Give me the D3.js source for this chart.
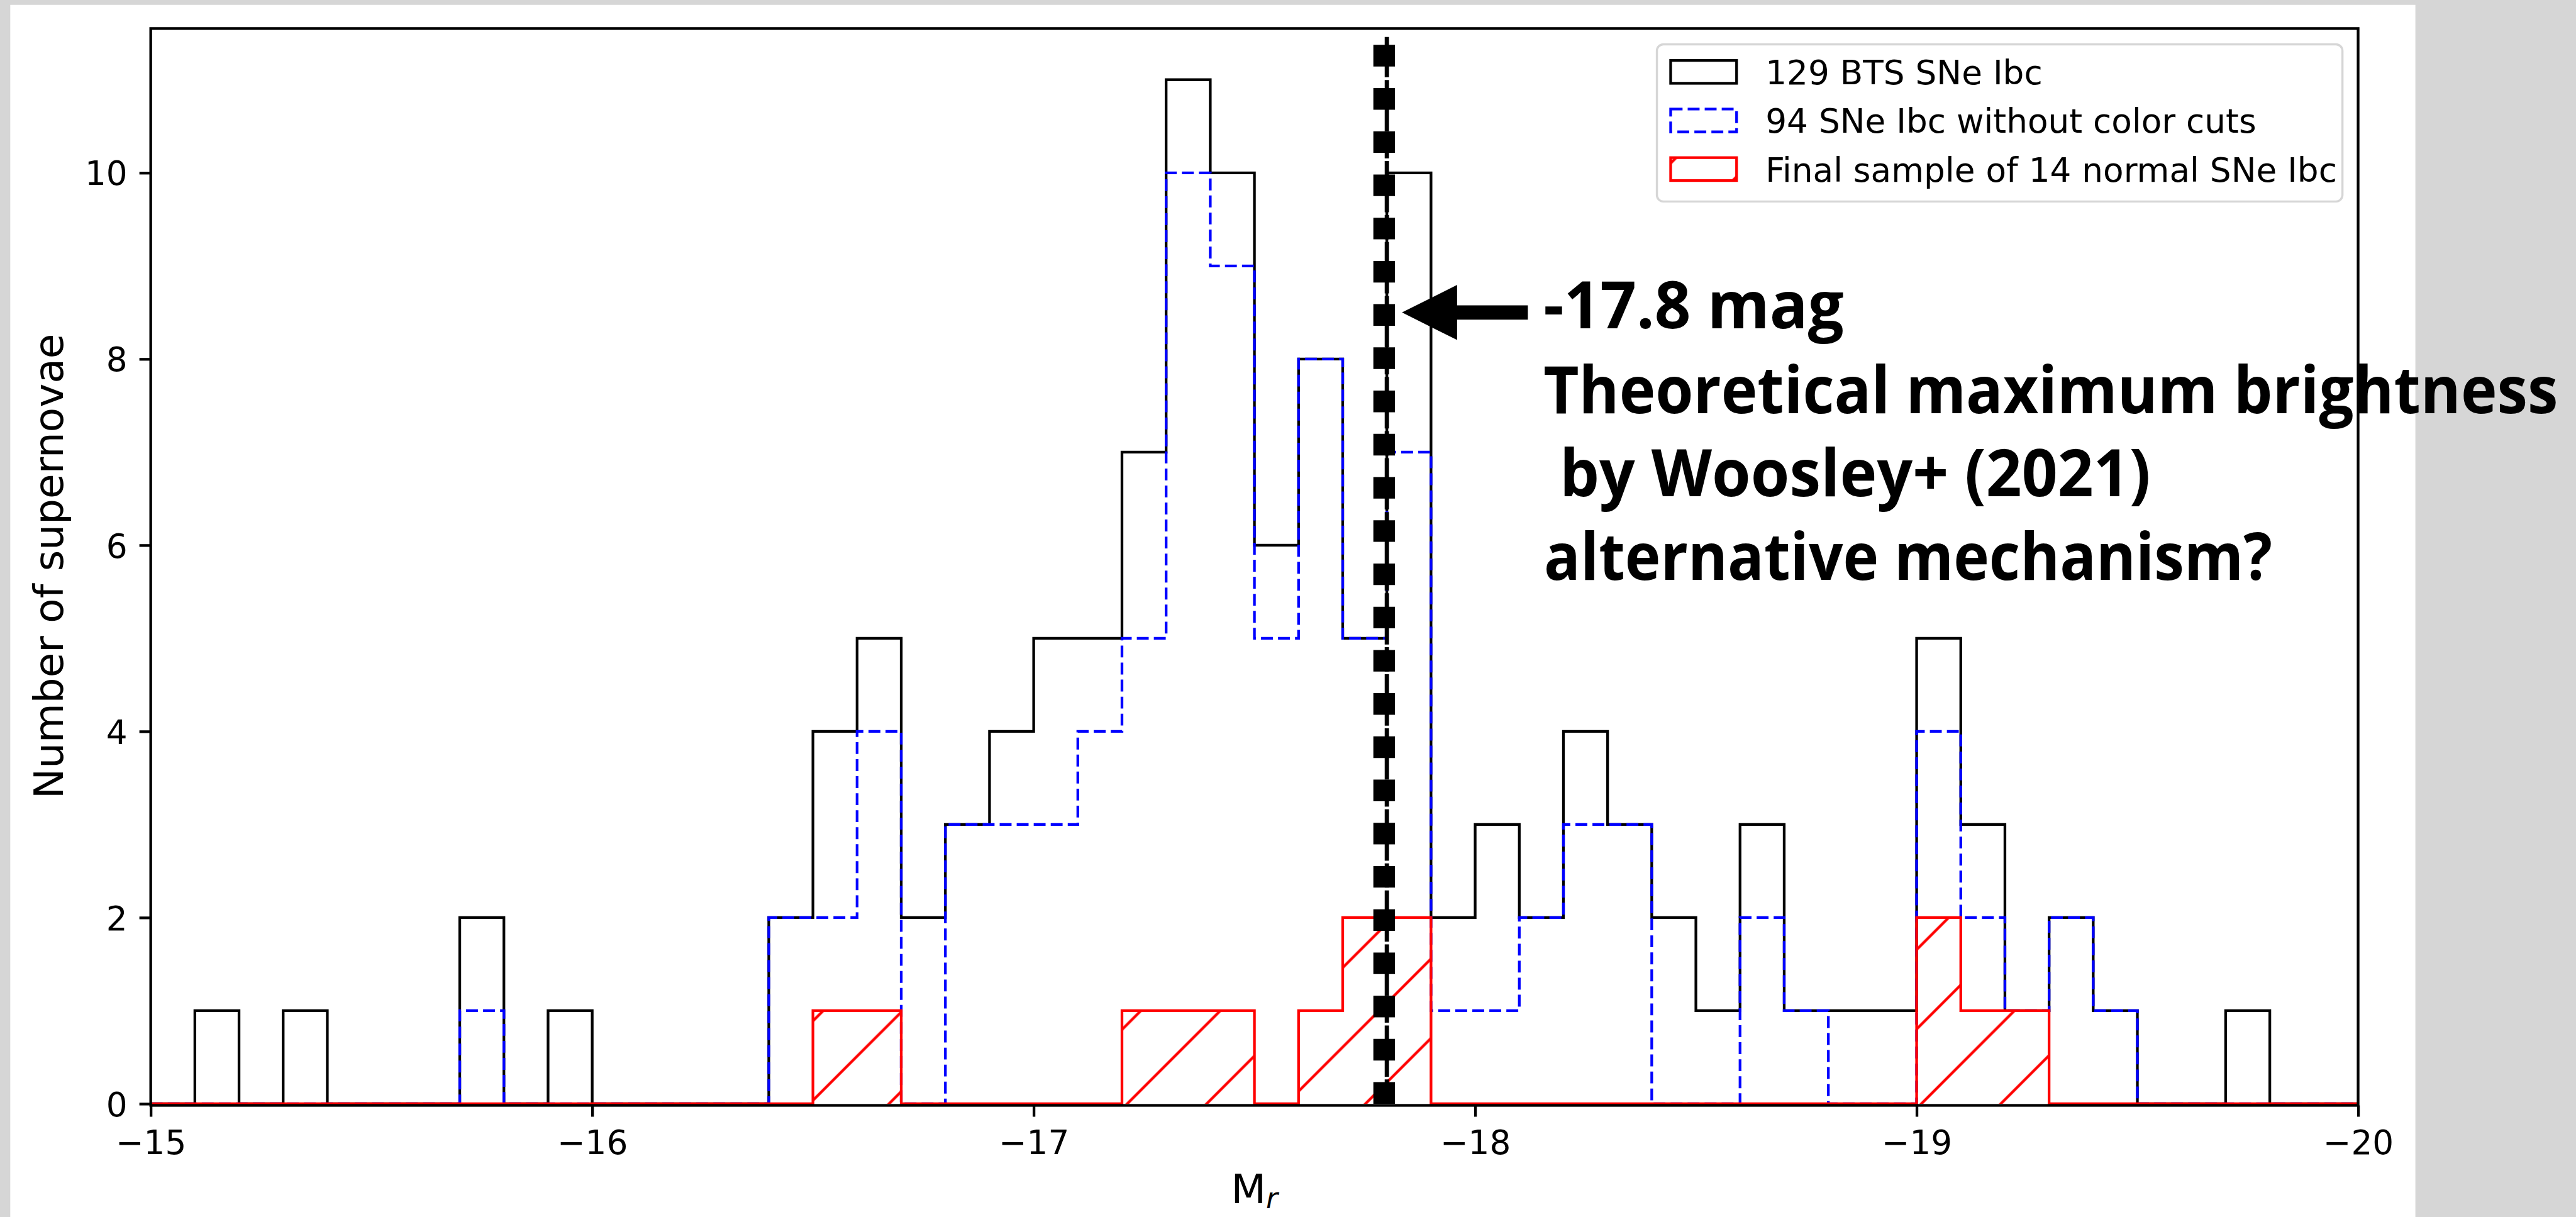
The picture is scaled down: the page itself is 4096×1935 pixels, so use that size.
<!DOCTYPE html>
<html>
<head>
<meta charset="utf-8">
<script src="https://cdn.jsdelivr.net/npm/d3@7"></script>
<style>
  html, body { margin: 0; padding: 0; background: #d6d6d6; overflow: hidden; }
  svg { display: block; }
</style>
</head>
<body>
<script>
// histogram bins in M_r (0.1 mag wide), x axis runs faint -> bright
var binEdges = [-15.0, -15.1, -15.2, -15.3, -15.4, -15.5, -15.6, -15.7, -15.8, -15.9,
                -16.0, -16.1, -16.2, -16.3, -16.4, -16.5, -16.6, -16.7, -16.8, -16.9,
                -17.0, -17.1, -17.2, -17.3, -17.4, -17.5, -17.6, -17.7, -17.8, -17.9,
                -18.0, -18.1, -18.2, -18.3, -18.4, -18.5, -18.6, -18.7, -18.8, -18.9,
                -19.0, -19.1, -19.2, -19.3, -19.4, -19.5, -19.6, -19.7, -19.8, -19.9,
                -20.0];

// counts per bin
var countsAll   = [0, 1, 0, 1, 0, 0, 0, 2, 0, 1,
                   0, 0, 0, 0, 2, 4, 5, 2, 3, 4,
                   5, 5, 7, 11, 10, 6, 8, 5, 10, 2,
                   3, 2, 4, 3, 2, 1, 3, 1, 1, 1,
                   5, 3, 1, 2, 1, 0, 0, 1, 0, 0];
var countsNoCut = [0, 0, 0, 0, 0, 0, 0, 1, 0, 0,
                   0, 0, 0, 0, 2, 2, 4, 0, 3, 3,
                   3, 4, 5, 10, 9, 5, 8, 5, 7, 1,
                   1, 2, 3, 3, 0, 0, 2, 1, 0, 0,
                   4, 2, 1, 2, 1, 0, 0, 0, 0, 0];
var countsFinal = [0, 0, 0, 0, 0, 0, 0, 0, 0, 0,
                   0, 0, 0, 0, 0, 1, 1, 0, 0, 0,
                   0, 0, 1, 1, 1, 0, 1, 2, 2, 0,
                   0, 0, 0, 0, 0, 0, 0, 0, 0, 0,
                   2, 1, 1, 0, 0, 0, 0, 0, 0, 0];

var seriesLabels = ["129 BTS SNe Ibc", "94 SNe Ibc without color cuts", "Final sample of 14 normal SNe Ibc"];
var xTicks = [-15, -16, -17, -18, -19, -20];
var yTicks = [0, 2, 4, 6, 8, 10];
var woosleyMag = -17.8;
var woosleyTop = 11.46;
var arrowLevel = 8.5;
var noteLines = ["-17.8 mag", "Theoretical maximum brightness", "by Woosley+ (2021)", "alternative mechanism?"];

// everything is laid out in reference pixels and shrunk by k
var k = 0.859;
function px(v) { return v * k; }

var W = 4096, H = 1935;
var plot = {left: 279, right: 4365, top: 52.8, bottom: 2043};

var svg = d3.select("body").append("svg")
    .attr("width", W)
    .attr("height", H);

// white page area on the grey background
svg.append("rect")
    .attr("x", px(19)).attr("y", px(9))
    .attr("width", px(4471 - 19)).attr("height", H)
    .attr("fill", "#ffffff");

var x = d3.scaleLinear().domain([-15, -20]).range([px(plot.left), px(plot.right)]);
var y = d3.scaleLinear().domain([0, 11.55]).range([px(plot.bottom), px(plot.top)]);

// hatch for the final sample, fixed to the page like matplotlib's
var hatchStep = px(147);
var hatchPhase = px(4276.6) % hatchStep;
var defs = svg.append("defs");
defs.append("pattern")
    .attr("id", "hatch")
    .attr("patternUnits", "userSpaceOnUse")
    .attr("x", hatchPhase).attr("y", 0)
    .attr("width", hatchStep).attr("height", hatchStep)
  .append("path")
    .attr("d", "M0," + hatchStep + "L" + hatchStep + ",0" +
               "M" + (-hatchStep / 4) + "," + (hatchStep / 4) + "L" + (hatchStep / 4) + "," + (-hatchStep / 4) +
               "M" + (hatchStep * 0.75) + "," + (hatchStep * 1.25) + "L" + (hatchStep * 1.25) + "," + (hatchStep * 0.75))
    .attr("stroke", "#ff0000")
    .attr("stroke-width", px(5))
    .attr("fill", "none");

function stepPoints(counts) {
  var pts = [[binEdges[0], 0]];
  counts.forEach(function(c, i) {
    pts.push([binEdges[i], c]);
    pts.push([binEdges[i + 1], c]);
  });
  pts.push([binEdges[binEdges.length - 1], 0]);
  return pts;
}

var stepLine = d3.line()
    .x(function(d) { return x(d[0]); })
    .y(function(d) { return y(d[1]); });

var series = [
  {counts: countsAll,   color: "#000000", dash: null,                        fill: "none"},
  {counts: countsNoCut, color: "#0000ff", dash: px(22) + " " + px(9.5),     fill: "none"},
  {counts: countsFinal, color: "#ff0000", dash: null,                        fill: "url(#hatch)"}
];

svg.append("g").attr("class", "hists")
  .selectAll("path")
  .data(series)
  .enter().append("path")
    .attr("d", function(d) { return stepLine(stepPoints(d.counts)); })
    .attr("fill", function(d) { return d.fill; })
    .attr("stroke", function(d) { return d.color; })
    .attr("stroke-width", px(5))
    .attr("stroke-dasharray", function(d) { return d.dash; })
    .attr("stroke-linejoin", "miter");

// axes frame
svg.append("rect")
    .attr("x", px(plot.left)).attr("y", px(plot.top))
    .attr("width", px(plot.right - plot.left))
    .attr("height", px(plot.bottom + 3 - plot.top))
    .attr("fill", "none")
    .attr("stroke", "#000000")
    .attr("stroke-width", px(5));

var tickFont = px(62);

var xAxisG = svg.append("g")
    .attr("transform", "translate(0," + px(plot.bottom + 3) + ")")
    .call(d3.axisBottom(x).tickValues(xTicks)
      .tickSize(px(21)).tickSizeOuter(0).tickPadding(px(25))
      .tickFormat(function(d) { return d3.format("d")(d).replace("-", "\u2212"); }));

var yAxisG = svg.append("g")
    .attr("transform", "translate(" + px(plot.left) + ",0)")
    .call(d3.axisLeft(y).tickValues(yTicks)
      .tickSize(px(21)).tickSizeOuter(0).tickPadding(px(22))
      .tickFormat(d3.format("d")));

[xAxisG, yAxisG].forEach(function(g) {
  g.select(".domain").remove();
  g.attr("font-family", "'DejaVu Sans', sans-serif").attr("font-size", tickFont);
  g.selectAll(".tick line").attr("stroke", "#000000").attr("stroke-width", px(5));
  g.selectAll(".tick text").attr("fill", "#000000");
});
yAxisG.selectAll(".tick text").attr("dy", "0.36em");

// axis labels
svg.append("text")
    .attr("transform", "translate(" + px(116.7) + "," + px(1048) + ") rotate(-90)")
    .attr("text-anchor", "middle")
    .attr("font-family", "'DejaVu Sans', sans-serif")
    .attr("font-size", px(75))
    .text("Number of supernovae");

var xLabel = svg.append("text")
    .attr("x", px(2322)).attr("y", px(2226.7))
    .attr("text-anchor", "middle")
    .attr("font-family", "'DejaVu Sans', sans-serif")
    .attr("font-size", px(75));
xLabel.append("tspan").text("M");
xLabel.append("tspan")
    .attr("font-style", "italic")
    .attr("font-size", px(53))
    .attr("dy", px(10))
    .text("r");

// Woosley+ (2021) limit: thin dashed line with a heavy dotted line on top
var vx = x(woosleyMag);
svg.append("line")
    .attr("x1", vx).attr("x2", vx)
    .attr("y1", y(0)).attr("y2", y(woosleyTop))
    .attr("stroke", "#000000")
    .attr("stroke-width", px(8))
    .attr("stroke-dasharray", px(45) + " " + px(5));
svg.append("line")
    .attr("x1", vx - px(5)).attr("x2", vx - px(5))
    .attr("y1", y(0)).attr("y2", y(woosleyTop))
    .attr("stroke", "#000000")
    .attr("stroke-width", px(40))
    .attr("stroke-dasharray", px(40) + " " + px(40));

// legend (absolute coordinates so the hatch phase matches the bars)
var legX = 3067, legY = 82;
var legend = svg.append("g").attr("class", "legend");
legend.append("rect")
    .attr("x", px(legX)).attr("y", px(legY))
    .attr("width", px(1269)).attr("height", px(291))
    .attr("rx", px(12)).attr("ry", px(12))
    .attr("fill", "#ffffff")
    .attr("stroke", "#d6d6d6")
    .attr("stroke-width", px(4));

var legendRows = legend.selectAll("g.row")
    .data(series)
    .enter().append("g")
    .attr("class", "row");

legendRows.append("rect")
    .attr("x", px(legX + 25.5))
    .attr("y", function(d, i) { return px(legY + 29.8 + 90 * i); })
    .attr("width", px(122)).attr("height", px(42.4))
    .attr("fill", function(d) { return d.fill; })
    .attr("stroke", function(d) { return d.color; })
    .attr("stroke-width", px(5))
    .attr("stroke-dasharray", function(d) { return d.dash; });

legendRows.append("text")
    .attr("x", px(legX + 201))
    .attr("y", function(d, i) { return px(legY + 74 + 90 * i); })
    .attr("font-family", "'DejaVu Sans', sans-serif")
    .attr("font-size", tickFont)
    .attr("fill", "#000000")
    .text(function(d, i) { return seriesLabels[i]; });

// arrow pointing at the limit
var ay = y(arrowLevel);
var tipX = vx + px(28);
var arrowPts = [
  [tipX, ay],
  [tipX + px(102), ay - px(51)],
  [tipX + px(102), ay - px(13.3)],
  [tipX + px(233), ay - px(13.3)],
  [tipX + px(233), ay + px(13.3)],
  [tipX + px(102), ay + px(13.3)],
  [tipX + px(102), ay + px(51)]
];
svg.append("path")
    .attr("d", d3.line()(arrowPts) + "Z")
    .attr("fill", "#000000");

// annotation text
var notePos = [
  {x: 2857, y: 607.6, w: 556},
  {x: 2857, y: 765, w: 1878},
  {x: 2887, y: 918, w: 1094},
  {x: 2858, y: 1073, w: 1348}
];
svg.append("g")
  .selectAll("text")
  .data(noteLines)
  .enter().append("text")
    .attr("x", function(d, i) { return px(notePos[i].x); })
    .attr("y", function(d, i) { return px(notePos[i].y); })
    .attr("textLength", function(d, i) { return px(notePos[i].w); })
    .attr("lengthAdjust", "spacingAndGlyphs")
    .attr("font-family", "'Open Sans', sans-serif")
    .attr("font-weight", 700)
    .attr("font-size", px(121))
    .attr("fill", "#000000")
    .text(function(d) { return d; });
</script>
</body>
</html>
